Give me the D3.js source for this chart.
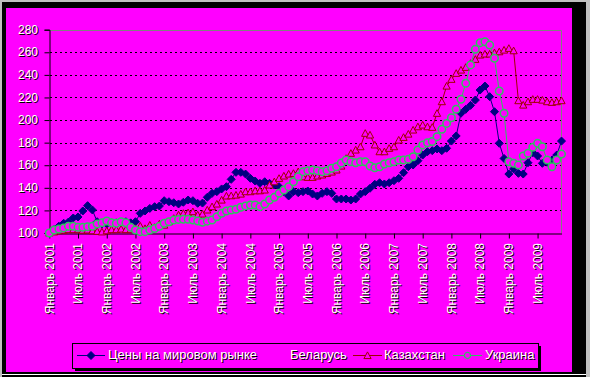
<!DOCTYPE html>
<html><head><meta charset="utf-8">
<script src="https://cdn.jsdelivr.net/npm/d3@7"></script>
<style>html,body{margin:0;padding:0;background:#c0c0c0;}svg{display:block;}</style>
</head><body>
<script>
// ---------- DATA ----------
const tickLabels = ["Январь 2001","Июль 2001","Январь 2002","Июль 2002","Январь 2003","Июль 2003",
  "Январь 2004","Июль 2004","Январь 2005","Июль 2005","Январь 2006","Июль 2006",
  "Январь 2007","Июль 2007","Январь 2008","Июль 2008","Январь 2009","Июль 2009"];
const yTicks = [100,120,140,160,180,200,220,240,260,280];
const seriesNames = ["Цены на мировом рынке","Беларусь","Казахстан","Украина"];
// monthly values Jan 2001 .. Dec 2009
const world = [100,103,106,108.6,109.7,113.3,114.2,119.5,124.2,120.4,110,108,108,109,109,109,110,109,110,117.4,
  119.5,121.8,123.3,123.9,128.6,127.7,126.8,125.7,127.2,129.2,128.6,126.3,126.5,131.6,135.1,136.6,139,141,147.5,153.7,
  153.7,152.2,148.4,146,144,145.4,144,142.5,141,136.6,132.8,136.6,135.7,136.6,137.2,134.5,132.8,135.1,136.6,135.1,
  130.1,130.1,130.1,129.2,130.1,134.5,136.6,139.6,143.1,144.5,143.4,144.5,146.3,148.4,153.4,158.7,160.2,164,169,172,
  172.9,174.4,172.9,175,181.4,185.9,206,209.5,213,217.7,226.6,230.1,220.7,207.4,179.4,166,152.2,156.7,152.8,152.2,
  162.2,171.1,168.2,161.7,162.6,164.6,169,181.4];
const kazakhstan = [100,101,102,102.5,103,103,103,102.5,102.7,102,101.5,101,102,103,103,103.5,103,103,104,106.2,
  104,107,105,108,107,110,113,116,117.4,118,118.9,116,116.8,120.4,123.3,125.7,129.2,132.8,133,133.6,
  134.5,136.6,136.6,137.4,137.4,138.1,142.5,145.4,148.4,150.5,152.2,152.8,154.3,149.8,149.3,149.3,150.5,151.4,152.8,154,
  155.8,159.3,166.1,170.6,173.5,176.4,188.3,186.8,178,172,172,175,176.4,182.3,184.7,187.6,191.2,194.1,195.6,194.1,
  193.6,206,216.3,230.1,236.1,241.4,244.3,246.7,250.2,253.8,257.6,258.5,258.5,259.6,260.5,262,263.5,261.4,217.2,213.3,
  216.3,218.4,218.4,217.7,216.3,215.7,216.3,217.2];
const ukraine = [100,102.7,103.5,104.5,106,106,105,105,105.6,106,108,109,110.6,109,108.6,110,109,105,102.7,101.2,
  101.2,102.7,104,106,108.6,110,111.5,112,112.1,112.1,111.5,110.6,109.5,110.5,111.5,114.4,117.4,119.5,120.4,121,
  122.8,124,124.8,124.8,123.3,125.7,129.2,131.6,135.1,138.1,141,145.4,149.8,154.3,155.2,155.8,155.2,154.3,155.2,157.3,
  158.7,162,164.6,163.1,162.2,163.1,163.1,159.3,157.8,158.7,161.1,162.2,163.1,164.6,164.6,165.2,167.5,173.5,178,179.9,
  181,185.3,191.8,197,202,209.6,218.4,232.6,248.8,262.6,268.5,269.4,266.4,254.7,225.7,206,163.1,161.7,160.2,168.2,
  170.6,175.9,179.4,176.4,164.6,158.7,164.6,169.9];

// ---------- CHART ----------
const W = 590, H = 377;
const MAG = "#FF00FF";
const svg = d3.select("body").append("svg").attr("width", W).attr("height", H);

// frame
svg.append("rect").attr("x",0).attr("y",0).attr("width",W).attr("height",H).attr("fill","#c0c0c0");
svg.append("rect").attr("x",2).attr("y",2).attr("width",584).attr("height",375).attr("fill","#000");
svg.append("rect").attr("x",6).attr("y",8).attr("width",566).attr("height",364).attr("fill",MAG);
svg.append("line").attr("x1",2).attr("x2",586).attr("y1",374.5).attr("y2",374.5).attr("stroke","#fff").attr("stroke-width",1);

const x = d3.scaleLinear().domain([0, world.length - 1]).range([49.3, 561.5]);
const y = d3.scaleLinear().domain([100, 280]).range([233, 29.7]);

const FONT = "'Liberation Sans', Arial, sans-serif";

function shadowText(g, txt, tx, ty, rot, anchor, size) {
  [["#000",1,1],["#fff",0,0]].forEach(([c,dx,dy]) => {
    g.append("text").attr("transform", `translate(${tx+dx},${ty+dy})` + (rot ? ` rotate(${rot})` : ""))
      .attr("text-anchor", anchor).attr("dy","0.35em")
      .style("font-family", FONT).style("font-size", size + "px").attr("fill", c).text(txt);
  });
}

// gridlines
const grid = svg.append("g");
yTicks.filter(v => v > 100 && v < 280).forEach(v => {
  grid.append("line").attr("x1", 50).attr("x2", 561).attr("y1", Math.round(y(v)) + 0.5).attr("y2", Math.round(y(v)) + 0.5)
    .attr("stroke", "#000").attr("stroke-dasharray", "2,3");
});
// plot border top/right (gray)
svg.append("path").attr("d", `M49.5,${Math.round(y(280))+0.5}H561.5V233`).attr("fill","none").attr("stroke","#808080");

// y axis
const yAxisG = svg.append("g").attr("transform", "translate(49.5,0)")
  .call(d3.axisLeft(y).tickValues(yTicks).tickSize(5).tickFormat(""));
yAxisG.select(".domain").attr("stroke","#000");
yAxisG.selectAll(".tick line").attr("stroke","#000");
yTicks.forEach(v => shadowText(svg, String(v), 38, y(v), 0, "end", 12));

// x axis
const xTickVals = tickLabels.map((d, i) => i * 6);
const xAxisG = svg.append("g").attr("transform", "translate(0,233.5)")
  .call(d3.axisBottom(x).tickValues(xTickVals).tickSize(5).tickFormat("").tickSizeOuter(0));
xAxisG.select(".domain").attr("stroke","#000");
xAxisG.selectAll(".tick line").attr("stroke","#000");
tickLabels.forEach((t, i) => shadowText(svg, t, x(i * 6), 243, -90, "end", 12));

// marker shapes (Excel-like)
const excelDiamond = { draw(ctx, size) { const r = Math.sqrt(size / 2);
  ctx.moveTo(0, -r); ctx.lineTo(r, 0); ctx.lineTo(0, r); ctx.lineTo(-r, 0); ctx.closePath(); } };
const excelTriangle = { draw(ctx, size) { const r = Math.sqrt(size) / 2;
  ctx.moveTo(0, -r); ctx.lineTo(r, r * 0.85); ctx.lineTo(-r, r * 0.85); ctx.closePath(); } };
const diamond = d3.symbol().type(excelDiamond).size(32);
const triangle = d3.symbol().type(excelTriangle).size(52);
const circle = d3.symbol().type(d3.symbolCircle).size(44);

// series
const line = d3.line().x((d, i) => x(i)).y(d => y(d));
function drawSeries(data, color, kind) {
  const g = svg.append("g");
  g.append("path").datum(data).attr("d", line).attr("fill","none").attr("stroke", color).attr("stroke-width", 1);
  const m = g.selectAll("path.m").data(data).join("path").attr("class","m")
    .attr("transform", (d, i) => `translate(${x(i)},${y(d)})`);
  if (kind === "diamond") m.attr("d", diamond).attr("fill", color).attr("stroke", color).attr("stroke-width",1);
  if (kind === "triangle") m.attr("d", triangle).attr("fill", MAG).attr("stroke", color).attr("stroke-width", 1);
  if (kind === "circle") m.attr("d", circle).attr("fill", MAG).attr("stroke", color).attr("stroke-width", 1.5);
}
const COLORS = ["#000080", MAG, "#A00000", "#2FC060"];
drawSeries(world, COLORS[0], "diamond");
drawSeries(kazakhstan, COLORS[2], "triangle");
drawSeries(ukraine, COLORS[3], "circle");

// legend
const lg = svg.append("g");
lg.append("rect").attr("x",75).attr("y",346).attr("width",466).attr("height",25).attr("fill","#000");
lg.append("rect").attr("x",72.5).attr("y",343.5).attr("width",466).attr("height",25).attr("fill",MAG).attr("stroke","#000").attr("stroke-width",1);
const legendItems = [
  {name: seriesNames[0], x0: 77, x1: 105, tx: 108, color: COLORS[0], kind: "diamond"},
  {name: seriesNames[1], x0: 256, x1: 287, tx: 290, color: COLORS[1], kind: "none"},
  {name: seriesNames[2], x0: 353, x1: 382, tx: 384, color: COLORS[2], kind: "triangle"},
  {name: seriesNames[3], x0: 453, x1: 482, tx: 485, color: COLORS[3], kind: "circle"}
];
const ly = 355.5;
legendItems.forEach(it => {
  lg.append("line").attr("x1", it.x0).attr("x2", it.x1).attr("y1", ly).attr("y2", ly).attr("stroke", it.color);
  const cx = (it.x0 + it.x1) / 2;
  if (it.kind === "diamond") lg.append("path").attr("d", diamond).attr("transform",`translate(${cx},${ly})`).attr("fill", it.color).attr("stroke", it.color);
  if (it.kind === "triangle") lg.append("path").attr("d", triangle).attr("transform",`translate(${cx},${ly})`).attr("fill", MAG).attr("stroke", it.color);
  if (it.kind === "circle") lg.append("path").attr("d", d3.symbol().type(d3.symbolCircle).size(30)).attr("transform",`translate(${cx},${ly})`).attr("fill", MAG).attr("stroke", it.color).attr("stroke-width",1.2);
  if (it.kind === "none") lg.append("path").attr("d", diamond).attr("transform",`translate(${cx},${ly})`).attr("fill", it.color);
  shadowText(lg, it.name, it.tx, ly - 1, 0, "start", 13);
});
</script>
</body></html>
